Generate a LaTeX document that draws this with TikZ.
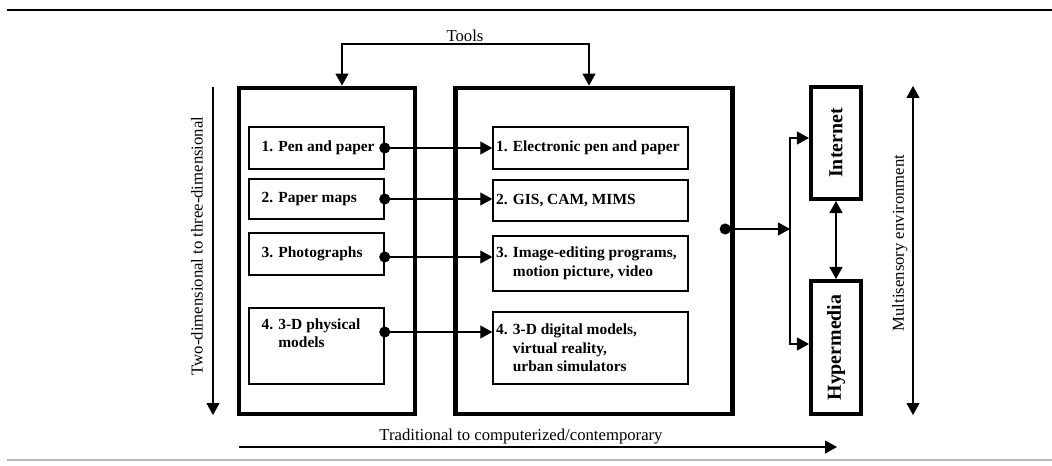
\documentclass[tikz,border=0pt]{standalone}
\usepackage{fontspec}
\setmainfont{Liberation Serif}
\usetikzlibrary{arrows.meta}
\definecolor{rulegray}{rgb}{0.72,0.72,0.72}
\tikzstyle{every node}=[font=\fontsize{9.5}{11}\selectfont]
\tikzstyle{bigbox}=[draw, line width=2.8pt, inner sep=0pt]
\tikzstyle{netbox}=[draw, line width=2.3pt, inner sep=0pt, minimum width=1cm, font=\fontsize{11.3}{13}\selectfont\bfseries]
\tikzstyle{smallbox}=[draw, line width=0.85pt, inner sep=0pt]
\tikzstyle{boxtext}=[inner sep=0pt, align=left, font=\fontsize{8.8}{10.5}\selectfont\bfseries]
\tikzstyle{oneway}=[line width=0.6pt, -{Triangle[length=0.24cm,width=0.26cm]}]
\tikzstyle{twoway}=[line width=0.6pt, {Triangle[length=0.24cm,width=0.26cm]}-{Triangle[length=0.24cm,width=0.26cm]}]
\tikzstyle{dotlink}=[line width=0.6pt, {Circle[length=0.22cm]}-{Triangle[length=0.24cm,width=0.26cm]}, shorten <=-0.11cm]

\begin{document}
\begin{tikzpicture}[x=0.02cm, y=-0.02cm]
\useasboundingbox (0,0) rectangle (1052,466);

\draw[line width=1.4pt] (7,10) -- (1052,10);
\draw[rulegray, line width=0.6pt] (7,460) -- (1052,460);

% the two big frames
\node[bigbox, minimum width=3.52cm, minimum height=6.52cm] (trad) at (327,251) {};
\node[bigbox, minimum width=5.55cm, minimum height=6.52cm] (comp) at (594,251) {};

% traditional tools
\node[smallbox, minimum width=2.7cm, minimum height=0.84cm] (p1) at (316.5,148) {};
\node[smallbox, minimum width=2.7cm, minimum height=0.8cm] (p2) at (316.5,199) {};
\node[smallbox, minimum width=2.7cm, minimum height=0.84cm] (p3) at (316.5,254) {};
\node[smallbox, minimum width=2.7cm, minimum height=1.52cm] (p4) at (316.5,346) {};
\node[boxtext, anchor=west, xshift=0.26cm] (p1t) at (p1.west) {1. Pen and paper};
\node[boxtext, anchor=west, xshift=0.26cm] (p2t) at (p2.west) {2. Paper maps};
\node[boxtext, anchor=west, xshift=0.26cm] (p3t) at (p3.west) {3. Photographs};
\node[boxtext, anchor=north west, xshift=0.26cm, yshift=-0.22cm] (p4t) at (p4.north west) {4. 3-D physical\\\phantom{4. }models};

% computerized tools
\node[smallbox, minimum width=3.9cm, minimum height=0.84cm] (e1) at (590.5,148) {};
\node[smallbox, minimum width=3.9cm, minimum height=0.82cm] (e2) at (590.5,200.5) {};
\node[smallbox, minimum width=3.9cm, minimum height=1.1cm] (e3) at (590.5,263.5) {};
\node[smallbox, minimum width=3.9cm, minimum height=1.44cm] (e4) at (590.5,348) {};
\node[boxtext, anchor=west, xshift=0.07cm] (e1t) at (e1.west) {1. Electronic pen and paper};
\node[boxtext, anchor=west, xshift=0.07cm] (e2t) at (e2.west) {2. GIS, CAM, MIMS};
\node[boxtext, anchor=west, xshift=0.07cm] (e3t) at (e3.west) {3. Image-editing programs,\\\phantom{3. }motion picture, video};
\node[boxtext, anchor=west, xshift=0.07cm] (e4t) at (e4.west) {4. 3-D digital models,\\\phantom{4. }virtual reality,\\\phantom{4. }urban simulators};

% internet and hypermedia
\node[netbox, minimum height=2.24cm] (inet) at (836,143) {\rotatebox{90}{Internet}};
\node[netbox, minimum height=2.66cm] (hyper) at (836,347.5) {\rotatebox{90}{Hypermedia}};

% connectors
\draw[dotlink] (p1.east) -- (p1.east -| e1.west);
\draw[dotlink] (p2.east) -- (p2.east -| e2.west);
\coordinate (p3r) at ([yshift=-0.06cm]p3.east);
\draw[dotlink] (p3r) -- (p3r -| e3.west);
\coordinate (p4r) at ([yshift=0.28cm]p4.east);
\draw[dotlink] (p4r) -- (p4r -| e4.west);

\coordinate (split) at (790,229);
\draw[dotlink] ([xshift=-0.2cm]split -| comp.east) -- (split);
\draw[oneway] (split) |- ([yshift=0.1cm]inet.west);
\draw[oneway] (split) |- ([yshift=0.07cm]hyper.west);
\draw[twoway] (inet) -- (hyper);

% tools
\node (tools) at (465,36) {Tools};
\coordinate (toolsline) at (465,44);
\draw[twoway] ([xshift=0.3cm]trad.north) |- (toolsline) -| ([xshift=-0.1cm]comp.north);

% the three axes
\coordinate (dtop) at (213,87);
\coordinate (dbot) at (213,415);
\draw[oneway] (dtop) -- (dbot);
\node[rotate=90] (dimlab) at (197,246) {Two-dimensional to three-dimensional};

\coordinate (mtop) at (913,86);
\coordinate (mbot) at (913,415);
\draw[twoway] (mtop) -- (mbot);
\node[rotate=90] (multlab) at (900,243) {Multisensory environment};

\coordinate (hleft) at (239,447);
\coordinate (hright) at (837,447);
\draw[oneway] (hleft) -- (hright);
\node (tradlab) at (521,437) {Traditional to computerized/contemporary};
\end{tikzpicture}
\end{document}
